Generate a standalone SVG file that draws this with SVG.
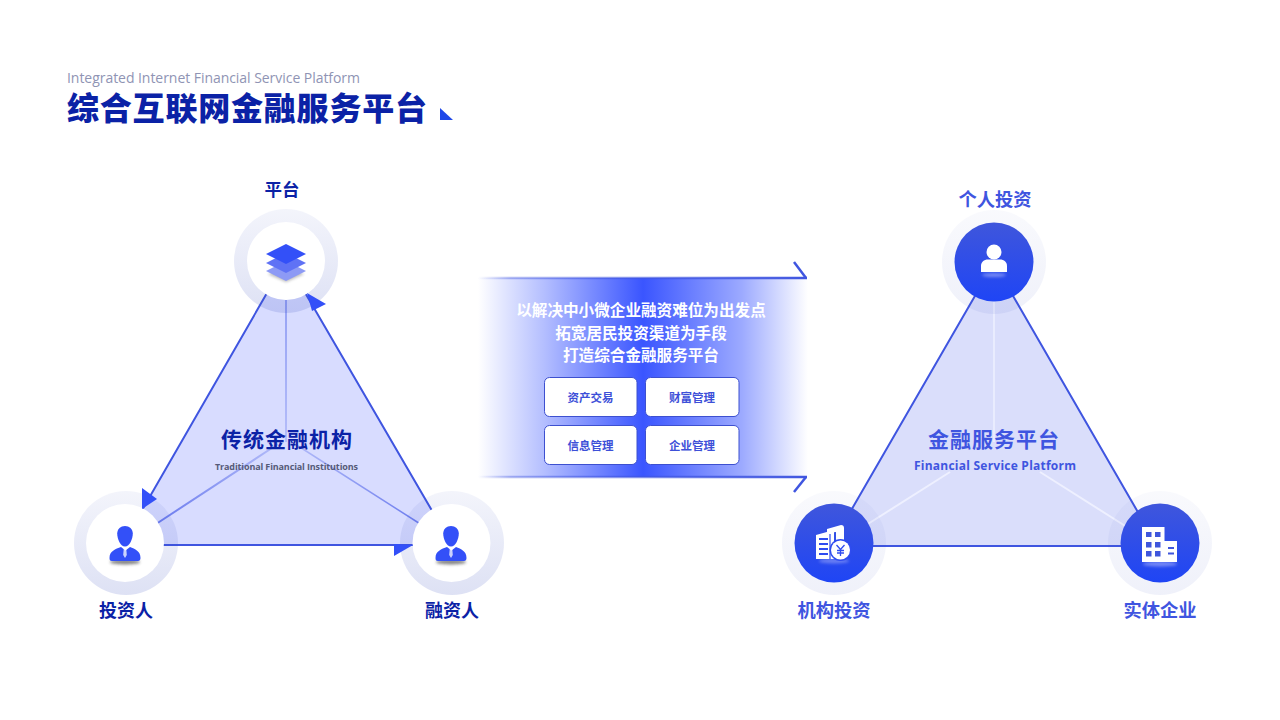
<svg xmlns="http://www.w3.org/2000/svg" width="1280" height="720" viewBox="0 0 1280 720">
<defs>
<style>
text{font-family:"Noto Sans CJK SC","Noto Sans",sans-serif;text-anchor:middle}
.nl{font-size:18px;font-weight:700;fill:#0b22a6}
.nr{font-size:18.300px;font-weight:700;fill:#3f55e0}
.btn{fill:#fff;stroke:#3d50d0;stroke-width:1}
.bt{font-size:11.500px;font-weight:700;fill:#3d50d8}
.pt{font-size:15.600px;font-weight:700;fill:#fff}
.halo{fill:url(#halo)}
.haloR{fill:url(#haloR)}
.edge{stroke:#3f55e0;stroke-width:2;fill:none}
</style>
<linearGradient id="halo" x1="0" y1="0" x2="0" y2="1"><stop offset="0" stop-color="#3a4fc0" stop-opacity=".06"/><stop offset="1" stop-color="#3a4fc0" stop-opacity=".17"/></linearGradient>
<linearGradient id="haloR" x1="0" y1="0" x2="0" y2="1"><stop offset="0" stop-color="#3a4fc0" stop-opacity=".03"/><stop offset="1" stop-color="#3a4fc0" stop-opacity=".08"/></linearGradient>
<linearGradient id="disc" x1="0" y1="0" x2="0" y2="1"><stop offset="0" stop-color="#3f56dc"/><stop offset="1" stop-color="#1f45f5"/></linearGradient>
<linearGradient id="panel" x1="478" y1="0" x2="808" y2="0" gradientUnits="userSpaceOnUse"><stop offset="0" stop-color="#3a55ff" stop-opacity="0"/><stop offset=".2" stop-color="#3a55ff" stop-opacity=".38"/><stop offset=".5" stop-color="#3a55ff"/><stop offset=".8" stop-color="#3a55ff" stop-opacity=".5"/><stop offset="1" stop-color="#3a55ff" stop-opacity="0"/></linearGradient>
<linearGradient id="rule" x1="478" y1="0" x2="808" y2="0" gradientUnits="userSpaceOnUse"><stop offset="0" stop-color="#3f55e0" stop-opacity="0"/><stop offset=".1" stop-color="#3f55e0" stop-opacity=".4"/><stop offset="1" stop-color="#3f55e0"/></linearGradient>
<linearGradient id="fadeV" x1="0" y1="300" x2="0" y2="445" gradientUnits="userSpaceOnUse"><stop offset="0" stop-color="#7f8ef0"/><stop offset="1" stop-color="#a9b3f8"/></linearGradient>
<linearGradient id="fadeL" x1="158" y1="0" x2="270" y2="0" gradientUnits="userSpaceOnUse"><stop offset="0" stop-color="#6c7cee"/><stop offset="1" stop-color="#aeb7f8"/></linearGradient>
<linearGradient id="fadeR" x1="420" y1="0" x2="300" y2="0" gradientUnits="userSpaceOnUse"><stop offset="0" stop-color="#6c7cee"/><stop offset="1" stop-color="#aeb7f8"/></linearGradient>
<filter id="blur" x="-50%" y="-80%" width="200%" height="260%"><feGaussianBlur stdDeviation="1.800"/></filter>
<g id="person">
<path d="M-15.500 15c0-7 6-9 11.500-11l4.500 3.500 4.500-3.500c5 2 10.500 4 10.500 11 0 2-1 3-2.500 3h-26c-2 0-2.500-1-2.500-3z" fill="#3350f8"/>
<path d="M-7.800-9.500c0-4.500 3.500-7.500 7.800-7.500s7.800 3 7.800 7.500c0 5-3 13-7.800 13s-7.800-8-7.800-13z" fill="#3350f8"/>
<path d="M-1.200 5h2.400l.6 7-1.800 3-1.800-3z" fill="#fff" opacity=".75"/>
</g>
</defs>
<rect width="1280" height="720" fill="#fff"/>

<g id="title">
<text x="213.500" y="83" style="font-family:'Open Sans','Noto Sans',sans-serif;font-size:14px;fill:#8f94b4" textLength="293" lengthAdjust="spacing">Integrated Internet Financial Service Platform</text>
<text x="247" y="120" style="font-size:32px;font-weight:900;fill:#0b22a6" textLength="360" lengthAdjust="spacing">综合互联网金融服务平台</text>
<path d="M440 120V108L453 120Z" fill="#1f48e8"/>
</g>

<g id="connectors">
<path d="M286 260L122 545H452Z" fill="#3a4fff" fill-opacity=".2"/>
<path d="M286 300V442" stroke="url(#fadeV)" stroke-width="1.500"/>
<path d="M150 528L278 444" stroke="url(#fadeL)" stroke-width="2" fill="none"/>
<path d="M295 444L425 527" stroke="url(#fadeR)" stroke-width="1.500" fill="none"/>
<path class="edge" d="M286 260L122 545H452L286 260"/>
<path d="M994 263L830.500 546H1157.500Z" fill="#3a4fe8" fill-opacity=".19"/>
<path d="M994 300V442" stroke="#eef0ff" stroke-width="1.500"/>
<path d="M860 529L950 472" stroke="#eef0ff" stroke-width="2"/>
<path d="M1040 472L1130 529" stroke="#eef0ff" stroke-width="2"/>
<path class="edge" d="M994 263L830.500 546H1157.500L994 263"/>
</g>

<g id="node-platform">
<circle cx="286" cy="261" r="52" class="halo"/>
<circle cx="286" cy="261" r="39" fill="#fff"/>
<path d="M268 274L286 282 304 274 286 266Z" fill="#555" opacity=".4" filter="url(#blur)"/>
<path d="M266 271L286 261 306 271 286 281Z" fill="#8d9af5"/>
<path d="M266 263L286 253 306 263 286 273Z" fill="#5f72f5"/>
<path d="M266 254L286 244 306 254 286 264Z" fill="#3350f8"/>
<text class="nl" x="282" y="196" style="font-size:17.500px">平台</text>
</g>
<g id="node-investor">
<circle cx="126" cy="543" r="52" class="halo"/>
<circle cx="125" cy="543" r="39" fill="#fff"/>
<ellipse cx="125" cy="562" rx="15" ry="2.500" fill="#333" opacity=".6" filter="url(#blur)"/>
<use href="#person" x="125" y="543"/>
<text class="nl" x="126" y="617">投资人</text>
</g>
<g id="node-borrower">
<circle cx="452" cy="543" r="52" class="halo"/>
<circle cx="451.500" cy="543" r="39" fill="#fff"/>
<ellipse cx="451" cy="562" rx="15" ry="2.500" fill="#333" opacity=".6" filter="url(#blur)"/>
<use href="#person" x="451" y="543"/>
<text class="nl" x="452" y="617">融资人</text>
</g>
<g id="arrowheads">
<path d="M142 488L157 499 142 509Z" fill="#3350f8"/>
<path d="M307 293L326 304 312 311Z" fill="#3350f8"/>
<path d="M394 544L413 545 394 556Z" fill="#3350f8"/>
</g>
<g id="left-label">
<text x="287" y="447" style="font-size:21px;font-weight:700;fill:#0b22a6;letter-spacing:1px">传统金融机构</text>
<text x="286.500" y="470" style="font-family:'Open Sans','Noto Sans',sans-serif;font-size:9px;font-weight:700;fill:#555a78" textLength="143" lengthAdjust="spacing">Traditional Financial Institutions</text>
</g>

<g id="center-panel">
<rect x="478" y="278" width="330" height="199" fill="url(#panel)"/>
<path d="M478 278H807" fill="none" stroke="url(#rule)" stroke-width="2.500"/>
<path d="M794 262L806 278" fill="none" stroke="#3f55e0" stroke-width="2.500"/>
<path d="M478 477H807" fill="none" stroke="url(#rule)" stroke-width="2.500"/>
<path d="M794 492L806 477" fill="none" stroke="#3f55e0" stroke-width="2.500"/>
<text class="pt" x="641" y="316">以解决中小微企业融资难位为出发点</text>
<text class="pt" x="641" y="339">拓宽居民投资渠道为手段</text>
<text class="pt" x="641" y="361">打造综合金融服务平台</text>
</g>
<g id="btn-asset"><rect class="btn" x="544.500" y="377.500" width="92.500" height="39" rx="5"/><text class="bt" x="590.500" y="402">资产交易</text></g>
<g id="btn-wealth"><rect class="btn" x="645.500" y="377.500" width="93.500" height="39" rx="5"/><text class="bt" x="692" y="402">财富管理</text></g>
<g id="btn-info"><rect class="btn" x="544.500" y="425.500" width="92.500" height="39" rx="5"/><text class="bt" x="590.500" y="450">信息管理</text></g>
<g id="btn-enterprise"><rect class="btn" x="645.500" y="425.500" width="93.500" height="39" rx="5"/><text class="bt" x="692" y="450">企业管理</text></g>

<g id="node-personal">
<circle cx="994" cy="262" r="52" class="haloR"/>
<circle cx="994" cy="262" r="39.500" fill="url(#disc)"/>
<ellipse cx="994" cy="275" rx="12" ry="2" fill="#aab4fa" opacity=".6" filter="url(#blur)"/>
<circle cx="994" cy="252" r="7.500" fill="#fff"/>
<path d="M981 272V266c0-4 3-6.500 7-6.500h12c4 0 7 2.500 7 6.500v6z" fill="#fff"/>
<text class="nr" x="995" y="206">个人投资</text>
</g>
<g id="node-institution">
<circle cx="834" cy="543" r="52" class="haloR"/>
<circle cx="834" cy="543" r="39.500" fill="url(#disc)"/>
<ellipse cx="834" cy="561" rx="15" ry="2.500" fill="#aab4fa" opacity=".5" filter="url(#blur)"/>
<path d="M827 529L841 525Q844 525 844 528V541H836V532L827 533Z" fill="#fff"/>
<path d="M816 535L834 530V559H816Z" fill="#fff"/>
<path d="M819 539h9M819 544h9M819 549h9M819 554h9" stroke="#2f4cf0" stroke-width="2"/>
<path d="M830 534V559" stroke="#2f4cf0" stroke-width="1.200"/>
<circle cx="840.500" cy="550" r="11" fill="#2f4cf0"/>
<circle cx="840.500" cy="550" r="9.500" fill="#fff"/>
<path d="M836.500 545l4 4.500 4-4.500M840.500 549.500V556M837 550.500h7M837 553h7" fill="none" stroke="#2f4cf0" stroke-width="1.300"/>
<text class="nr" x="834" y="617">机构投资</text>
</g>
<g id="node-enterprise">
<circle cx="1160" cy="543" r="52" class="haloR"/>
<circle cx="1160" cy="543" r="39.500" fill="url(#disc)"/>
<ellipse cx="1160" cy="564" rx="17" ry="2.500" fill="#aab4fa" opacity=".6" filter="url(#blur)"/>
<path d="M1142 527H1164.500V541H1177V562H1142Z" fill="#fff"/>
<path d="M1146 532h5.500v5h-5.500zM1155 532h5.500v5h-5.500zM1146 542h5.500v5.500h-5.500zM1155 542h5.500v5.500h-5.500zM1146 551h5.500v5.500h-5.500zM1155 551h5.500v5.500h-5.500z" fill="#3f56dc"/>
<path d="M1168 548h6M1168 553.500h6" stroke="#3f56dc" stroke-width="2"/>
<text class="nr" x="1160" y="617">实体企业</text>
</g>
<g id="right-label">
<text x="994" y="447" style="font-size:21px;font-weight:700;fill:#3f55e0;letter-spacing:1px">金融服务平台</text>
<text x="995" y="470" style="font-family:'Open Sans','Noto Sans',sans-serif;font-size:12px;font-weight:700;fill:#3f55e0" textLength="162" lengthAdjust="spacing">Financial Service Platform</text>
</g>
</svg>
